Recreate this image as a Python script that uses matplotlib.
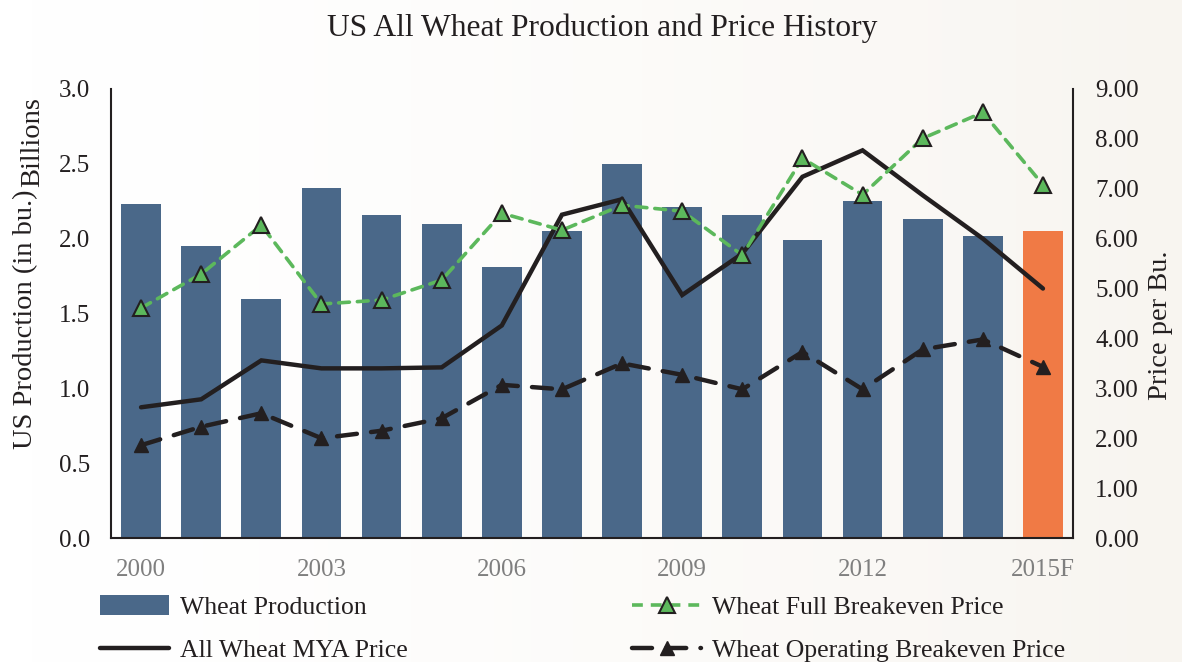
import numpy as np
from matplotlib import pyplot as plt
from matplotlib.colors import LinearSegmentedColormap
from matplotlib.lines import Line2D
from matplotlib.patches import Patch

# Data
years = ['2000', '2001', '2002', '2003', '2004', '2005', '2006', '2007',
         '2008', '2009', '2010', '2011', '2012', '2013', '2014', '2015F']
production = [2.23, 1.95, 1.60, 2.34, 2.16, 2.10, 1.81, 2.05,
              2.50, 2.21, 2.16, 1.99, 2.25, 2.13, 2.02, 2.05]  # billions bu.
mya_price = [2.62, 2.78, 3.56, 3.40, 3.40, 3.42, 4.26, 6.48,
             6.79, 4.87, 5.70, 7.24, 7.77, 6.87, 6.00, 5.00]
full_breakeven = [4.61, 5.29, 6.27, 4.69, 4.77, 5.17, 6.51, 6.17,
                  6.67, 6.55, 5.67, 7.61, 6.88, 8.01, 8.53, 7.08]
operating_breakeven = [1.86, 2.23, 2.50, 2.00, 2.15, 2.40, 3.07, 2.98,
                       3.50, 3.27, 2.98, 3.73, 2.98, 3.78, 3.98, 3.43]
tick_years = ['2000', '2003', '2006', '2009', '2012', '2015F']

bar_color = '#4a6889'
forecast_color = '#f07a45'
green = '#5cb85c'
black = '#231f20'

plt.rcParams['font.family'] = ['Liberation Serif', 'DejaVu Serif']

fig = plt.figure(figsize=(11.82, 6.62), dpi=100)

# faint warm background, whiter on the left
bg = fig.add_axes([0, 0, 1, 1], zorder=-10)
grad = np.linspace(0, 1, 256)[None, :] ** 1.5
bg.imshow(grad, aspect='auto', extent=[0, 1, 0, 1],
          cmap=LinearSegmentedColormap.from_list('bg', ['#ffffff', '#f8f5f0']))
bg.axis('off')

ax = fig.add_axes([0.0939, 0.1873, 0.8139, 0.6783])
ax.patch.set_alpha(0)
x = np.arange(len(years))
colors = [bar_color] * (len(years) - 1) + [forecast_color]
ax.bar(x, production, width=0.66, color=colors, zorder=2)
ax.set_ylim(0, 3.0)
ax.set_xlim(-0.5, len(years) - 0.5)
ax.set_yticks(np.arange(0, 3.01, 0.5))
ax.set_yticklabels([f"{v:.1f}" for v in np.arange(0, 3.01, 0.5)])
ax.set_xticks([years.index(t) for t in tick_years])
ax.set_xticklabels(tick_years, color='#7f7f7f')
ax.tick_params(axis='y', length=0, pad=15, labelsize=18, colors=black)
ax.tick_params(axis='x', length=0, pad=15, labelsize=18)
for s in ['left', 'bottom']:
    ax.spines[s].set_linewidth(1.5)
    ax.spines[s].set_color(black)
ax.spines['top'].set_visible(False)
ax.spines['right'].set_visible(False)

ax2 = ax.twinx()
ax2.set_ylim(0, 9.0)
ax2.set_yticks(np.arange(0, 9.01, 1))
ax2.set_yticklabels([f"{v:.2f}" for v in np.arange(0, 9.01, 1)])
ax2.tick_params(axis='y', length=0, pad=16, labelsize=18, colors=black)
ax2.spines['right'].set_linewidth(1.5)
ax2.spines['right'].set_color(black)
for s in ['top', 'left', 'bottom']:
    ax2.spines[s].set_visible(False)

ax2.plot(x, mya_price, color=black, lw=3.2, solid_capstyle='round',
         solid_joinstyle='miter', zorder=3)
ax2.plot(x, full_breakeven, color=green, lw=2.6, dashes=(3, 2.2),
         dash_capstyle='round', marker='^', markersize=11,
         markerfacecolor=green, markeredgecolor=black, markeredgewidth=1.5, zorder=4)
ax2.plot(x, operating_breakeven, color=black, lw=3.2, dashes=(4.5, 3.2),
         dash_capstyle='round', marker='^', markersize=10,
         markerfacecolor=black, markeredgecolor=black, zorder=4)

fig.text(0.5097, 0.958, 'US All Wheat Production and Price History',
         ha='center', va='center', fontsize=22.7, color=black)
fig.text(0.022, 0.517, 'US Production (in bu.)', rotation=90,
         ha='center', va='center', fontsize=20.5, color=black)
fig.text(0.028, 0.786, 'Billions', rotation=90,
         ha='center', va='center', fontsize=20.5, color=black)
fig.text(0.982, 0.508, 'Price per Bu.', rotation=90,
         ha='center', va='center', fontsize=20.5, color=black)

handles_left = [
    Patch(facecolor=bar_color),
    Line2D([], [], color=black, lw=3.2, solid_capstyle='round'),
]
handles_right = [
    Line2D([], [], color=green, lw=2.6, dashes=(3, 2.2), marker='^', markersize=11,
           markerfacecolor=green, markeredgecolor=black, markeredgewidth=1.5),
    Line2D([], [], color=black, lw=3.2, dashes=(4.5, 3.2), dash_capstyle='round',
           marker='^', markersize=10, markerfacecolor=black),
]
leg_kw = dict(loc='upper left', frameon=False, fontsize=18.5, handlelength=2.7,
              handleheight=0.8, handletextpad=0.4, labelspacing=0.75,
              borderpad=0, borderaxespad=0, labelcolor=black)
fig.legend(handles_left, ['Wheat Production', 'All Wheat MYA Price'],
           bbox_to_anchor=(0.0846, 0.101), **leg_kw)
fig.legend(handles_right, ['Wheat Full Breakeven Price', 'Wheat Operating Breakeven Price'],
           bbox_to_anchor=(0.5347, 0.101), **leg_kw)

fig.savefig('out.png', dpi=100)
